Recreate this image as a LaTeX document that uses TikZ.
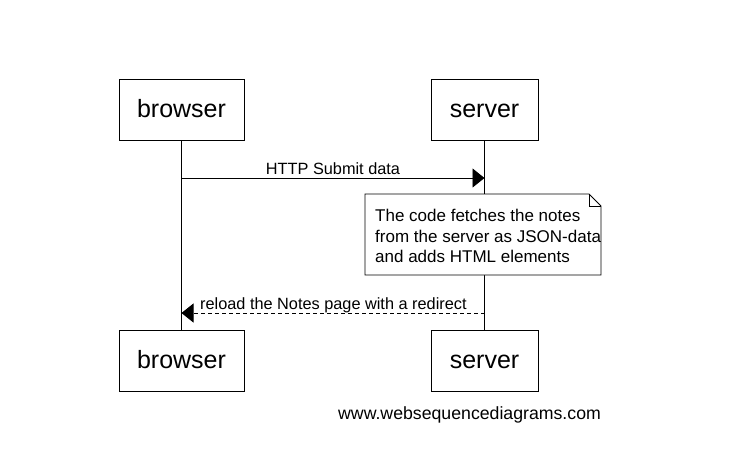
\documentclass[tikz,border=0pt]{standalone}
\usepackage{fontspec}
\setmainfont{Liberation Sans}
\usetikzlibrary{arrows.meta}
\begin{document}
\begin{tikzpicture}[x=1pt,y=-1pt,
  actor/.style={draw,line width=0.9pt,minimum height=61pt,inner sep=0pt,text height=15pt,text depth=0pt,font=\fontsize{25}{28}\selectfont},
  life/.style={line width=0.9pt},
  msg/.style={line width=0.9pt,-{Triangle[length=12pt,width=19pt]}},
  lbl/.style={font=\fontsize{16.3}{18}\selectfont,inner sep=0pt}]
\useasboundingbox (0,0) rectangle (751,461);
\node[actor,minimum width=125pt] (bt) at (181.5,109.5) {browser};
\node[actor,minimum width=107pt] (st) at (484.5,109.5) {server};
\node[actor,minimum width=125pt] (bb) at (181.5,360.5) {browser};
\node[actor,minimum width=107pt] (sb) at (484.5,360.5) {server};
\draw[life] (bt.south) -- (bb.north);
\draw[life] (st.south) -- (sb.north);
\coordinate (m1s) at (bt.south |- 0,178);
\coordinate (m1e) at (st.south |- 0,178);
\draw[msg] (m1s) -- (m1e);
\node[lbl,anchor=base] (l1) at (333,174) {HTTP Submit data};
% note
\draw[line width=0.9pt,fill=white] (365,194) -- (589,194) -- (601,206) -- (601,275) -- (365,275) -- cycle;
\draw[line width=0.9pt] (589,194) -- (589,206) -- (601,206);
\node[anchor=base west,align=left,inner sep=0pt,font=\fontsize{17}{20.5}\selectfont] (note) at (375,262.5) {The code fetches the notes\\from the server as JSON-data\\and adds HTML elements};
\coordinate (m2s) at (st.south |- 0,313);
\coordinate (m2e) at (bt.south |- 0,313);
\draw[msg,dash pattern=on 4pt off 3pt] (m2s) -- (m2e);
\node[lbl,anchor=base west] (l2) at (200,309.5) {reload the Notes page with a redirect};
\node[lbl,anchor=base west,font=\fontsize{17.7}{20}\selectfont] (wm) at (338,419.5) {www.websequencediagrams.com};
\end{tikzpicture}
\end{document}
